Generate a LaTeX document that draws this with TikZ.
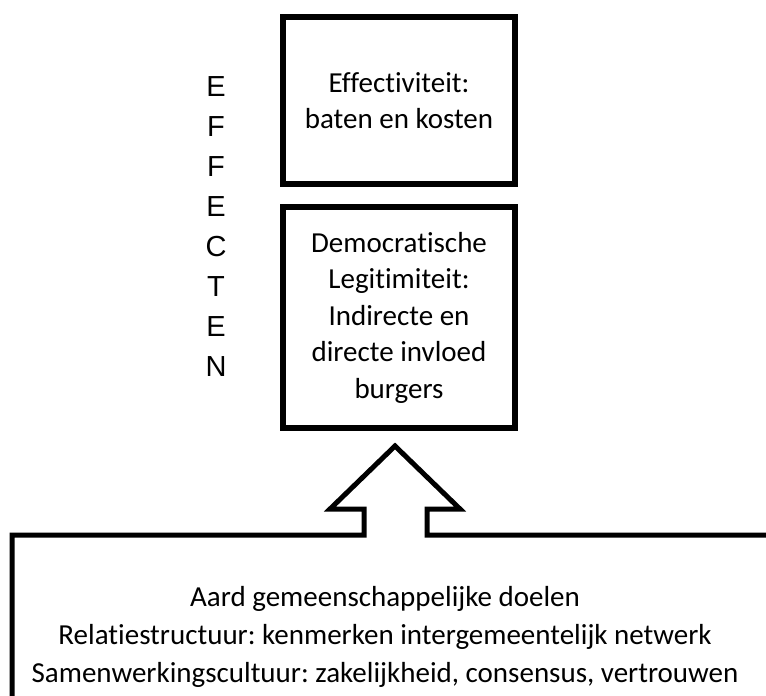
\documentclass[tikz,border=0pt]{standalone}
\usepackage{fontspec}
\setmainfont{Carlito}[Ligatures={NoCommon,NoContextual}]
\newfontfamily\arialfont{Liberation Sans}
\usetikzlibrary{positioning}
\frenchspacing

\begin{document}
\begin{tikzpicture}[x=0.75pt,y=-0.75pt,
                    box/.style={draw,line width=4.5pt,align=center,minimum width=174pt,
                                font=\fontsize{21.75pt}{27.4pt}\selectfont},
                    vlabel/.style={align=center,font=\arialfont\fontsize{21.75pt}{30pt}\selectfont},
                    basetext/.style={align=center,font=\fontsize{21.75pt}{28.5pt}\selectfont},
                    outline/.style={line width=3.75pt}]

  \useasboundingbox (0,0) rectangle (766,695);

  \node[box,minimum height=125.25pt]            (eff) at (399,100.5) {Effectiviteit:\\baten en kosten};
  \node[box,minimum height=165.75pt] (dem) [below=12.75pt of eff]
        {Democratische\\Legitimiteit:\\Indirecte en\\directe invloed\\burgers};
  \node[vlabel]   (effecten) at (216,226.5) {E\\F\\F\\E\\C\\T\\E\\N};
  \node[basetext] (factors)  at (385,637)
        {Aard gemeenschappelijke doelen\\
         Relatiestructuur: kenmerken intergemeentelijk netwerk\\
         Samenwerkingscultuur: zakelijkheid, consensus, vertrouwen};

  \coordinate (tip) at (395,446);
  \draw[outline] (12,700) |- (364,535) -- (364,509) -- (330,509) -- (tip)
        -- (460,509) -- (427,509) -- (427,535) -- (770,535);
\end{tikzpicture}
\end{document}
